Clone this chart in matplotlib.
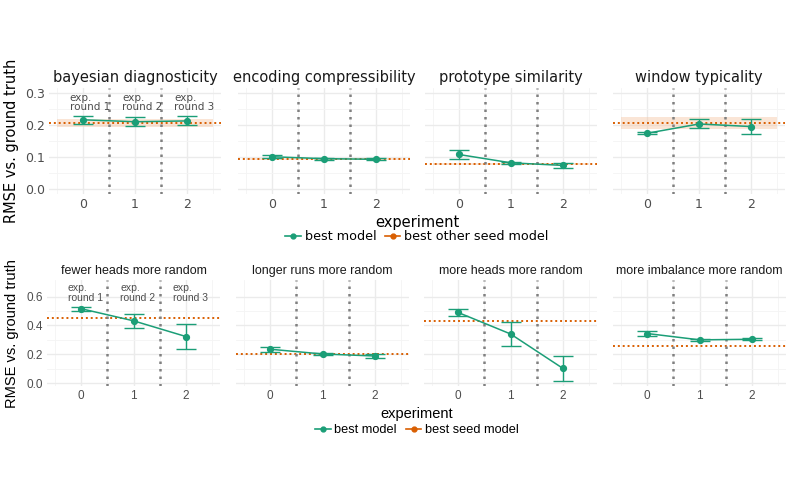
import matplotlib
matplotlib.use("Agg")
import matplotlib.pyplot as plt
from matplotlib.lines import Line2D
import numpy as np

W, H = 792, 494
TEAL = "#1b9e77"
ORANGE = "#d95f02"

experiments = [0, 1, 2]

# top row
top_titles = ["bayesian diagnosticity", "encoding compressibility",
              "prototype similarity", "window typicality"]
top_mean = [[0.216, 0.210, 0.2125], [0.101, 0.095, 0.093],
            [0.108, 0.082, 0.074], [0.174, 0.203, 0.195]]
top_lo = [[0.203, 0.196, 0.199], [0.097, 0.092, 0.090],
          [0.095, 0.078, 0.067], [0.171, 0.190, 0.172]]
top_hi = [[0.229, 0.224, 0.227], [0.105, 0.098, 0.096],
          [0.122, 0.086, 0.081], [0.177, 0.217, 0.217]]
top_seed = [0.207, 0.094, 0.078, 0.205]
top_seed_lo = [0.195, 0.092, 0.076, 0.187]
top_seed_hi = [0.218, 0.096, 0.080, 0.224]

# bottom row
bot_titles = ["fewer heads more random", "longer runs more random",
              "more heads more random", "more imbalance more random"]
bot_mean = [[0.516, 0.432, 0.323], [0.235, 0.202, 0.188],
            [0.490, 0.341, 0.102], [0.344, 0.300, 0.304]]
bot_lo = [[0.502, 0.381, 0.234], [0.216, 0.197, 0.174],
          [0.464, 0.260, 0.012], [0.327, 0.292, 0.298]]
bot_hi = [[0.527, 0.481, 0.413], [0.248, 0.207, 0.200],
          [0.511, 0.423, 0.188], [0.360, 0.308, 0.310]]
bot_seed = [0.453, 0.202, 0.434, 0.260]

round_labels = ["exp.\nround 1", "exp.\nround 2", "exp.\nround 3"]

fig = plt.figure(figsize=(W / 100, H / 100), dpi=100)


def px_axes(x0, x1, ytop, ybot):
    return fig.add_axes([x0 / W, 1 - ybot / H, (x1 - x0) / W, (ybot - ytop) / H])


def style(ax, yticks, yminor, font, show_y, size):
    ax.set_xlim(-0.65, 2.65)
    ax.set_xticks(experiments)
    ax.set_xticks([-0.5, 0.5, 1.5, 2.5], minor=True)
    ax.set_yticks(yticks)
    ax.set_yticks(yminor, minor=True)
    ax.grid(True, which="major", color="#ebebeb", lw=1.0, zorder=0)
    ax.grid(True, which="minor", color="#f4f4f4", lw=0.6, zorder=0)
    for s in ax.spines.values():
        s.set_visible(False)
    ax.tick_params(which="both", length=0, labelcolor="#4d4d4d",
                   labelsize=size, pad=3)
    for lab in ax.get_xticklabels() + ax.get_yticklabels():
        lab.set_family(font)
    if show_y:
        ax.set_yticklabels([f"{v:.1f}" for v in yticks], family=font)
    else:
        ax.set_yticklabels([])
    ax.set_axisbelow(True)


def draw(ax, mean, lo, hi, seed, slo=None, shi=None):
    if slo is not None:
        ax.fill_between([-0.5, 2.5], [slo, slo], [shi, shi], color="#f5c6a5",
                        alpha=0.45, lw=0, zorder=1)
    ax.axhline(seed, color=ORANGE, ls=(0, (1, 1.5)), lw=1.4, zorder=2)
    for xv in (0.5, 1.5):
        ax.axvline(xv, color="#808080", ls=(0, (1, 2.0)), lw=1.8, zorder=2)
    m = np.array(mean)
    ax.errorbar(experiments, m, yerr=[m - np.array(lo), np.array(hi) - m],
                color=TEAL, ecolor=TEAL, elinewidth=1.0, capsize=7.5,
                capthick=1.0, marker="o", ms=4.2, lw=1.1, zorder=3)


# top row
top_x = [(49, 221), (238, 410), (425, 597), (613, 785)]
for i in range(4):
    ax = px_axes(top_x[i][0], top_x[i][1], 88, 194)
    ax.set_ylim(-0.015, 0.315)
    draw(ax, top_mean[i], top_lo[i], top_hi[i], top_seed[i],
         top_seed_lo[i], top_seed_hi[i])
    style(ax, [0.0, 0.1, 0.2, 0.3], [0.05, 0.15, 0.25], "DejaVu Sans", i == 0, 9)
    ax.set_title(top_titles[i], fontsize=10.5, family="DejaVu Sans",
                 color="#1a1a1a", pad=4)
    if i == 0:
        for k, lab in enumerate(round_labels):
            ax.text(experiments[k] - 0.25, 0.27, lab, ha="left", va="center",
                    fontsize=7.5, color="#4d4d4d", family="DejaVu Sans",
                    linespacing=0.95, zorder=4)

# bottom row
bot_x = [(47, 220), (236, 409), (424, 597), (613, 786)]
for i in range(4):
    ax = px_axes(bot_x[i][0], bot_x[i][1], 280, 386)
    ax.set_ylim(-0.02, 0.715)
    draw(ax, bot_mean[i], bot_lo[i], bot_hi[i], bot_seed[i])
    style(ax, [0.0, 0.2, 0.4, 0.6], [0.1, 0.3, 0.5], "Liberation Sans", i == 0, 8.5)
    ax.set_title(bot_titles[i], fontsize=9, family="Liberation Sans",
                 color="#1a1a1a", pad=4)
    if i == 0:
        for k, lab in enumerate(round_labels):
            ax.text(experiments[k] - 0.25, 0.625, lab, ha="left", va="center",
                    fontsize=7.5, color="#4d4d4d", family="Liberation Sans",
                    linespacing=0.95, zorder=4)

# y labels
fig.text(12 / W, 1 - 141 / H, "RMSE vs. ground truth", rotation=90,
         ha="center", va="center", fontsize=10.5, family="DejaVu Sans")
fig.text(12 / W, 1 - 334 / H, "RMSE vs. ground truth", rotation=90,
         ha="center", va="center", fontsize=10.5, family="Liberation Sans")

# legends
fig.text(417 / W, 1 - 222 / H, "experiment", ha="center", va="center",
         fontsize=10.5, family="DejaVu Sans")
fig.text(417 / W, 1 - 414 / H, "experiment", ha="center", va="center",
         fontsize=10.5, family="Liberation Sans")


def handles():
    return [Line2D([], [], color=TEAL, marker="o", ms=3.5, lw=1.2),
            Line2D([], [], color=ORANGE, marker="o", ms=3.5, lw=1.2)]


leg1 = fig.legend(handles(), ["best model", "best other seed model"],
                  loc="center", bbox_to_anchor=(417 / W, 1 - 237 / H), ncol=2,
                  frameon=False, handlelength=1.2, handletextpad=0.3,
                  columnspacing=0.7, prop={"family": "DejaVu Sans", "size": 9.2})
leg2 = fig.legend(handles(), ["best model", "best seed model"],
                  loc="center", bbox_to_anchor=(417 / W, 1 - 430 / H), ncol=2,
                  frameon=False, handlelength=1.2, handletextpad=0.3,
                  columnspacing=0.7, prop={"family": "Liberation Sans", "size": 9.2})

fig.savefig("out.png", dpi=100)
